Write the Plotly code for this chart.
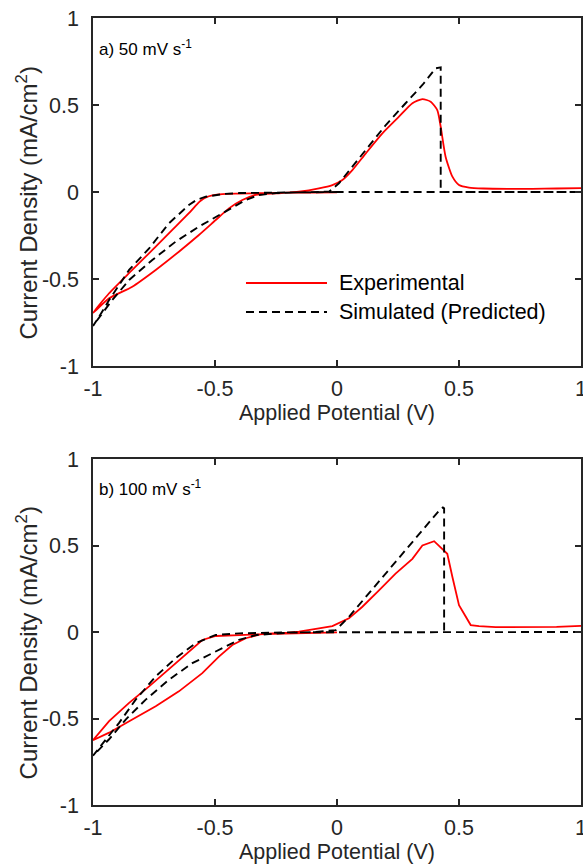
import plotly.graph_objects as go

# ---------------- data: panel a) 50 mV/s ----------------
exp_a_x = [0.0, -0.1, -0.2, -0.3, -0.4, -0.47, -0.511, -0.535, -0.56, -0.58, -0.607, -0.675, -0.743, -0.839, -0.934, -1.0,
           -0.934, -0.839, -0.743, -0.648, -0.566, -0.497, -0.443, -0.388, -0.333, -0.25, -0.156, -0.074, -0.019,
           0.022, 0.063, 0.118, 0.186, 0.254, 0.309, 0.35, 0.384, 0.411, 0.425, 0.445, 0.473, 0.5, 0.541,
           0.6, 0.7, 0.8, 0.9, 1.0]
exp_a_y = [-0.002, -0.003, -0.004, -0.006, -0.009, -0.012, -0.02, -0.03, -0.052, -0.08, -0.122, -0.218, -0.314, -0.448, -0.582, -0.695,
           -0.611, -0.544, -0.448, -0.343, -0.247, -0.161, -0.094, -0.046, -0.017, -0.008, 0.002, 0.021, 0.04,
           0.069, 0.126, 0.222, 0.337, 0.433, 0.51, 0.534, 0.519, 0.471, 0.375, 0.203, 0.088, 0.04, 0.025,
           0.02, 0.018, 0.018, 0.02, 0.022]

sim_a_x = [0.0, -0.2, -0.4, -0.47, -0.538, -0.575, -0.607, -0.689, -0.77, -0.852, -0.934, -0.975, -1.0,
           -0.962, -0.921, -0.852, -0.757, -0.661, -0.566, -0.47, -0.374, -0.32, -0.25, -0.15, -0.033,
           0.008, 0.063, 0.131, 0.2, 0.281, 0.35, 0.404, 0.425, 0.425,
           0.6, 0.8, 1.0, 0.8, 0.6, 0.4, 0.2, 0.0]
sim_a_y = [0.0, -0.002, -0.006, -0.012, -0.027, -0.045, -0.075, -0.18, -0.324, -0.448, -0.621, -0.717, -0.77,
           -0.697, -0.621, -0.506, -0.391, -0.285, -0.199, -0.122, -0.046, -0.017, -0.006, -0.002, 0.002,
           0.05, 0.146, 0.27, 0.385, 0.51, 0.615, 0.711, 0.716, 0.0,
           0.0, 0.0, 0.0, 0.0, 0.0, 0.0, 0.0, 0.0]

# ---------------- data: panel b) 100 mV/s ----------------
exp_b_x = [0.0, -0.1, -0.2, -0.3, -0.4, -0.497, -0.552, -0.607, -0.689, -0.77, -0.852, -0.934, -1.0,
           -0.934, -0.839, -0.743, -0.648, -0.552, -0.484, -0.429, -0.374, -0.306, -0.2, -0.156, -0.074, -0.019,
           0.049, 0.104, 0.172, 0.24, 0.309, 0.35, 0.398, 0.418, 0.452, 0.473, 0.5, 0.548, 0.582,
           0.65, 0.8, 0.9, 1.0]
exp_b_y = [-0.002, -0.004, -0.008, -0.012, -0.018, -0.023, -0.046, -0.113, -0.218, -0.314, -0.41, -0.515, -0.625,
           -0.582, -0.506, -0.429, -0.343, -0.238, -0.142, -0.075, -0.036, -0.011, -0.004, 0.002, 0.021, 0.034,
           0.079, 0.146, 0.241, 0.337, 0.423, 0.5, 0.525, 0.5, 0.452, 0.318, 0.155, 0.04, 0.034,
           0.028, 0.028, 0.03, 0.035]

sim_b_x = [1.0, 0.8, 0.6, 0.4, 0.2, 0.0, -0.2, -0.4, -0.497, -0.579, -0.661, -0.743, -0.825, -0.893, -0.948, -1.0,
           -0.934, -0.866, -0.784, -0.689, -0.593, -0.497, -0.402, -0.33, -0.2, -0.1, -0.005,
           0.049, 0.118, 0.2, 0.281, 0.363, 0.418, 0.434, 0.439, 0.439]
sim_b_y = [0.0, 0.0, 0.0, 0.0, 0.0, 0.0, -0.002, -0.008, -0.017, -0.065, -0.151, -0.257, -0.391, -0.525, -0.62, -0.715,
           -0.62, -0.506, -0.391, -0.276, -0.18, -0.113, -0.046, -0.017, -0.004, -0.001, 0.011,
           0.088, 0.203, 0.337, 0.471, 0.605, 0.701, 0.72, 0.715, 0.0]

x_ticks = [-1, -0.5, 0, 0.5, 1]
x_tick_text = ["-1", "-0.5", "0", "0.5", "1"]
y_ticks = [-1, -0.5, 0, 0.5, 1]
y_tick_text = ["-1", "-0.5", "0", "0.5", "1"]

legend_names = ["Experimental", "Simulated (Predicted)"]
panel_labels = ["a) 50 mV s<sup>-1</sup>", "b) 100 mV s<sup>-1</sup>"]
x_title = "Applied Potential (V)"
y_title = "Current Density (mA/cm<sup>2</sup>)"

RED = "#ff0000"
BLACK = "#000000"
AX = "#262626"
FONT = "Liberation Sans, Arial, sans-serif"
DASH = "8px,5px"

W, H = 583, 865
fig = go.Figure()

fig.add_trace(go.Scatter(x=exp_a_x, y=exp_a_y, mode="lines",
                         line=dict(color=RED, width=1.8, shape="spline", smoothing=0.6),
                         name=legend_names[0], showlegend=False, xaxis="x", yaxis="y"))
fig.add_trace(go.Scatter(x=sim_a_x, y=sim_a_y, mode="lines", line=dict(color=BLACK, width=1.9, dash=DASH),
                         name=legend_names[1], showlegend=False, xaxis="x", yaxis="y"))
fig.add_trace(go.Scatter(x=exp_b_x, y=exp_b_y, mode="lines", line=dict(color=RED, width=1.8),
                         name=legend_names[0], showlegend=False, xaxis="x2", yaxis="y2"))
fig.add_trace(go.Scatter(x=sim_b_x, y=sim_b_y, mode="lines", line=dict(color=BLACK, width=1.9, dash=DASH),
                         name=legend_names[1], showlegend=False, xaxis="x2", yaxis="y2"))

def xa(anchor):
    return dict(range=[-1, 1], tickvals=x_ticks, ticktext=x_tick_text, ticks="inside", ticklen=6,
                tickwidth=1.5, tickcolor=AX, showline=True, linecolor=AX, linewidth=1.5, mirror="ticks",
                showgrid=False, zeroline=False, anchor=anchor, ticklabelstandoff=2, automargin=False,
                ticklabeloverflow="allow",
                tickfont=dict(size=21.5, color=AX, family=FONT),
                title=dict(text=x_title, font=dict(size=21.5, color=AX, family=FONT), standoff=0))

def ya(anchor, dom):
    return dict(range=[-1, 1], tickvals=y_ticks, ticktext=y_tick_text, ticks="inside", ticklen=6,
                tickwidth=1.5, tickcolor=AX, showline=True, linecolor=AX, linewidth=1.5, mirror="ticks",
                showgrid=False, zeroline=False, anchor=anchor, domain=dom, ticklabelstandoff=8, automargin=False,
                ticklabeloverflow="allow",
                tickfont=dict(size=21.5, color=AX, family=FONT))

top_dom = [1 - 366 / H, 1 - 18 / H]
bot_dom = [1 - 805 / H, 1 - 459 / H]

fig.update_layout(
    template="none",
    width=W, height=H,
    margin=dict(l=93, r=2, t=0, b=0, autoexpand=False),
    paper_bgcolor="white", plot_bgcolor="white",
    font=dict(family=FONT, color=AX),
    showlegend=False,
    xaxis=xa("y"), yaxis=ya("x", top_dom),
    xaxis2=xa("y2"), yaxis2=ya("x2", bot_dom),
)

# y-axis titles (rotated text beside each panel)
for yr in ["y domain", "y2 domain"]:
    fig.add_annotation(x=-0.1352, y=0.467, xref="paper", yref=yr, text=y_title, textangle=-90,
                       showarrow=False, xanchor="center", yanchor="middle",
                       font=dict(size=24, color=AX, family=FONT))

# panel labels
for i, (xr, yr) in enumerate([("x", "y"), ("x2", "y2")]):
    fig.add_annotation(x=-0.985, y=0.83, xref=xr, yref=yr, text=panel_labels[i], showarrow=False,
                       xanchor="left", yanchor="middle", font=dict(size=17, color=BLACK, family=FONT))

# legend (drawn in top panel)
leg_rows = [-0.523, -0.69]
fig.add_shape(type="line", xref="x", yref="y", x0=-0.373, x1=-0.041, y0=leg_rows[0], y1=leg_rows[0],
              line=dict(color=RED, width=1.8))
fig.add_shape(type="line", xref="x", yref="y", x0=-0.373, x1=-0.041, y0=leg_rows[1], y1=leg_rows[1],
              line=dict(color=BLACK, width=1.9, dash=DASH))
for name, yy in zip(legend_names, leg_rows):
    fig.add_annotation(x=0.0, y=yy, xref="x", yref="y", text=name, showarrow=False,
                       xanchor="left", yanchor="middle", font=dict(size=21.5, color=BLACK, family=FONT))

fig.write_html("out.html", config={"displayModeBar": False},
               post_script="document.body.style.margin='0';document.body.style.overflow='hidden';")
